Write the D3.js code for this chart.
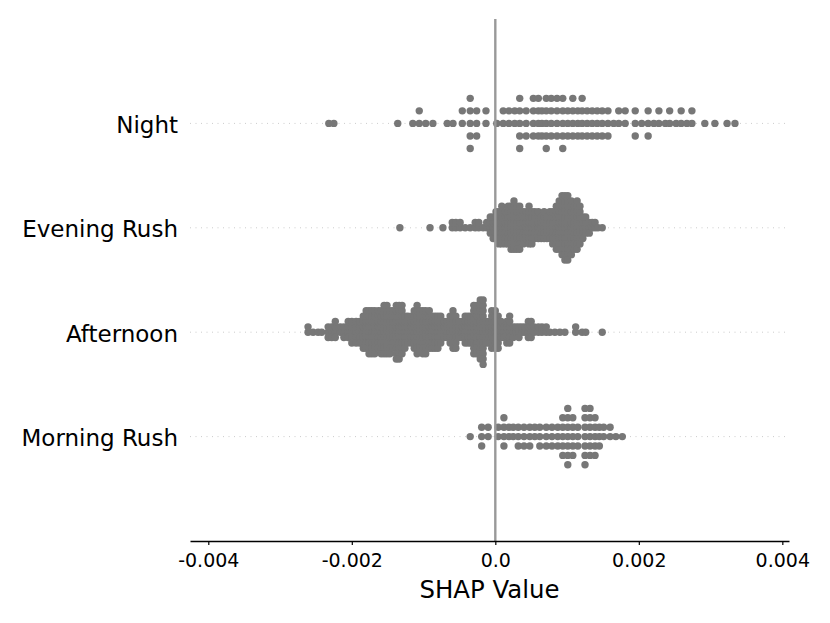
<!DOCTYPE html>
<html>
<head>
<meta charset="utf-8">
<script src="https://cdnjs.cloudflare.com/ajax/libs/d3/7.8.5/d3.min.js"></script>
<style>
body { margin: 0; background: #fff; }
text { font-family: "DejaVu Sans", sans-serif; }
</style>
</head>
<body>
<div id="chart"></div>
<script>

var width = 830;
var height = 623;

// features from bottom row to top row
var features = ["Morning Rush", "Afternoon", "Evening Rush", "Night"];

// each entry: [shap value, number of dots stacked in that bin]
var morningRush = [
	[-0.00035, 1], [-0.00019, 3], [-0.00010, 2], [0.00004, 2], [0.00012, 4], [0.00019, 2],
	[0.00025, 2], [0.00032, 3], [0.00040, 3], [0.00048, 3], [0.00055, 2], [0.00062, 3],
	[0.00071, 3], [0.00079, 3], [0.00087, 3], [0.00094, 5], [0.00101, 7], [0.00108, 5],
	[0.00115, 3], [0.00125, 7], [0.00132, 6], [0.00139, 5], [0.00145, 3], [0.00151, 2],
	[0.00160, 2], [0.00168, 1], [0.00177, 1]
];

var afternoon = [
	[-0.00261, 2], [-0.00254, 1], [-0.00247, 1], [-0.00242, 1], [-0.00233, 3], [-0.00228, 3],
	[-0.00223, 4], [-0.00216, 2], [-0.00211, 3], [-0.00205, 4], [-0.00200, 5], [-0.00194, 5],
	[-0.00189, 5], [-0.00184, 7], [-0.00180, 8], [-0.00176, 9], [-0.00172, 9], [-0.00168, 9],
	[-0.00163, 8], [-0.00159, 9], [-0.00155, 10], [-0.00151, 10], [-0.00147, 9], [-0.00143, 8],
	[-0.00138, 11], [-0.00134, 11], [-0.00130, 10], [-0.00126, 7], [-0.00122, 6], [-0.00117, 6],
	[-0.00113, 8], [-0.00109, 10], [-0.00105, 8], [-0.00101, 9], [-0.00097, 9], [-0.00092, 8],
	[-0.00088, 7], [-0.00084, 7], [-0.00080, 7], [-0.00076, 6], [-0.00071, 4], [-0.00067, 4],
	[-0.00063, 6], [-0.00059, 8], [-0.00055, 7], [-0.00051, 4], [-0.00046, 4], [-0.00042, 6],
	[-0.00038, 6], [-0.00034, 6], [-0.00030, 10], [-0.00026, 10], [-0.00021, 12], [-0.00017, 13],
	[-0.00013, 5], [-0.00009, 5], [-0.00005, 8], [0.00000, 8], [0.00004, 7], [0.00008, 4],
	[0.00012, 3], [0.00016, 5], [0.00020, 6], [0.00025, 3], [0.00029, 2], [0.00033, 3],
	[0.00037, 2], [0.00041, 2], [0.00046, 4], [0.00050, 4], [0.00054, 2], [0.00060, 2],
	[0.00065, 2], [0.00071, 2], [0.00076, 1], [0.00083, 1], [0.00090, 1], [0.00097, 1],
	[0.00112, 2], [0.00121, 1], [0.00126, 1], [0.00149, 1]
];

var eveningRush = [
	[-0.00133, 1], [-0.00091, 1], [-0.00073, 1], [-0.00060, 2], [-0.00055, 2], [-0.00049, 2],
	[-0.00042, 1], [-0.00035, 1], [-0.00028, 2], [-0.00023, 2], [-0.00017, 1], [-0.00012, 2],
	[-0.00007, 4], [-0.00003, 5], [0.00001, 6], [0.00005, 7], [0.00009, 8], [0.00014, 7],
	[0.00018, 8], [0.00022, 9], [0.00026, 10], [0.00030, 9], [0.00034, 9], [0.00039, 7],
	[0.00043, 6], [0.00047, 8], [0.00051, 7], [0.00055, 6], [0.00060, 6], [0.00064, 5],
	[0.00068, 6], [0.00072, 5], [0.00076, 6], [0.00080, 7], [0.00085, 9], [0.00089, 10],
	[0.00093, 12], [0.00097, 13], [0.00101, 13], [0.00106, 11], [0.00110, 9], [0.00114, 10],
	[0.00118, 8], [0.00122, 5], [0.00126, 4], [0.00131, 3], [0.00135, 2], [0.00139, 2],
	[0.00143, 1], [0.00149, 1]
];

var night = [
	[-0.00232, 1], [-0.00225, 1], [-0.00136, 1], [-0.00115, 1], [-0.00106, 2], [-0.00097, 1],
	[-0.00087, 1], [-0.00067, 1], [-0.00059, 1], [-0.00046, 2], [-0.00035, 5], [-0.00026, 3],
	[-0.00013, 2], [0.00002, 1], [0.00011, 2], [0.00019, 2], [0.00027, 2], [0.00034, 5],
	[0.00043, 3], [0.00053, 4], [0.00060, 4], [0.00065, 3], [0.00071, 5], [0.00078, 4],
	[0.00086, 4], [0.00094, 5], [0.00101, 3], [0.00108, 4], [0.00115, 3], [0.00121, 4],
	[0.00128, 3], [0.00135, 3], [0.00142, 3], [0.00149, 3], [0.00157, 3], [0.00165, 1],
	[0.00172, 2], [0.00181, 2], [0.00195, 3], [0.00204, 1], [0.00213, 3], [0.00221, 1],
	[0.00228, 2], [0.00237, 1], [0.00243, 2], [0.00252, 1], [0.00259, 2], [0.00267, 1],
	[0.00274, 2], [0.00292, 1], [0.00306, 1], [0.00323, 1], [0.00334, 1]
];

var rows = [morningRush, afternoon, eveningRush, night];

var xTicks = [-0.004, -0.002, 0, 0.002, 0.004];
var xTickLabels = ["-0.004", "-0.002", "0.0", "0.002", "0.004"];
var xLabel = "SHAP Value";

var x = d3.scaleLinear().domain([-0.004255, 0.004093]).range([190, 789]);
var y = d3.scaleLinear().domain([-1, features.length]).range([541, 19]);

var svg = d3.select("#chart").append("svg")
	.attr("width", width)
	.attr("height", height);

// stack dots of a bin alternately above and below the row, like shap does
function swarm(cols, pos) {
	var pts = [];
	cols.forEach(function (c) {
		for (var layer = 0; layer < c[1]; layer++) {
			pts.push({ v: c[0], off: Math.ceil(layer / 2) * ((layer % 2) * 2 - 1) });
		}
	});
	var maxOff = d3.max(pts, function (d) { return d.off; });
	var k = 0.9 * 0.4 / (maxOff + 1);
	pts.forEach(function (d) { d.y = pos + d.off * k; });
	return pts;
}

// dotted row guides
svg.selectAll("line.guide")
	.data(features)
	.enter()
	.append("line")
	.attr("class", "guide")
	.attr("x1", x.range()[0])
	.attr("x2", x.range()[1])
	.attr("y1", function (d, i) { return y(i); })
	.attr("y2", function (d, i) { return y(i); })
	.style("stroke", "#cccccc")
	.style("stroke-width", 1)
	.style("stroke-dasharray", "1,4.5");

rows.forEach(function (cols, i) {
	svg.append("g").selectAll("circle")
		.data(swarm(cols, i))
		.enter()
		.append("circle")
		.attr("cx", function (d) { return x(d.v); })
		.attr("cy", function (d) { return y(d.y); })
		.attr("r", 3.7)
		.style("fill", "#777777");
});

// zero line
svg.append("line")
	.attr("x1", x(0))
	.attr("x2", x(0))
	.attr("y1", y(-1))
	.attr("y2", y(features.length))
	.style("stroke", "#999999")
	.style("stroke-width", 2.4);

var xAxis = svg.append("g")
	.attr("transform", "translate(0," + y(-1) + ")")
	.call(d3.axisBottom(x)
		.tickValues(xTicks)
		.tickFormat(function (d, i) { return xTickLabels[i]; })
		.tickSize(4)
		.tickSizeOuter(0)
		.tickPadding(9));

xAxis.select(".domain").style("stroke", "#000").style("stroke-width", 1.4);
xAxis.selectAll(".tick line").style("stroke", "#000").style("stroke-width", 1.2);
xAxis.selectAll(".tick text")
	.style("font-family", "DejaVu Sans")
	.style("font-size", "19px")
	.style("fill", "#000");

svg.append("text")
	.attr("x", (x.range()[0] + x.range()[1]) / 2)
	.attr("y", 598)
	.attr("text-anchor", "middle")
	.style("font-size", "24.4px")
	.style("fill", "#000")
	.text(xLabel);

svg.selectAll("text.feature")
	.data(features)
	.enter()
	.append("text")
	.attr("class", "feature")
	.attr("x", 178)
	.attr("y", function (d, i) { return y(i) + 9.5; })
	.attr("text-anchor", "end")
	.style("font-size", "23px")
	.style("fill", "#000")
	.text(function (d) { return d; });

</script>
</body>
</html>
